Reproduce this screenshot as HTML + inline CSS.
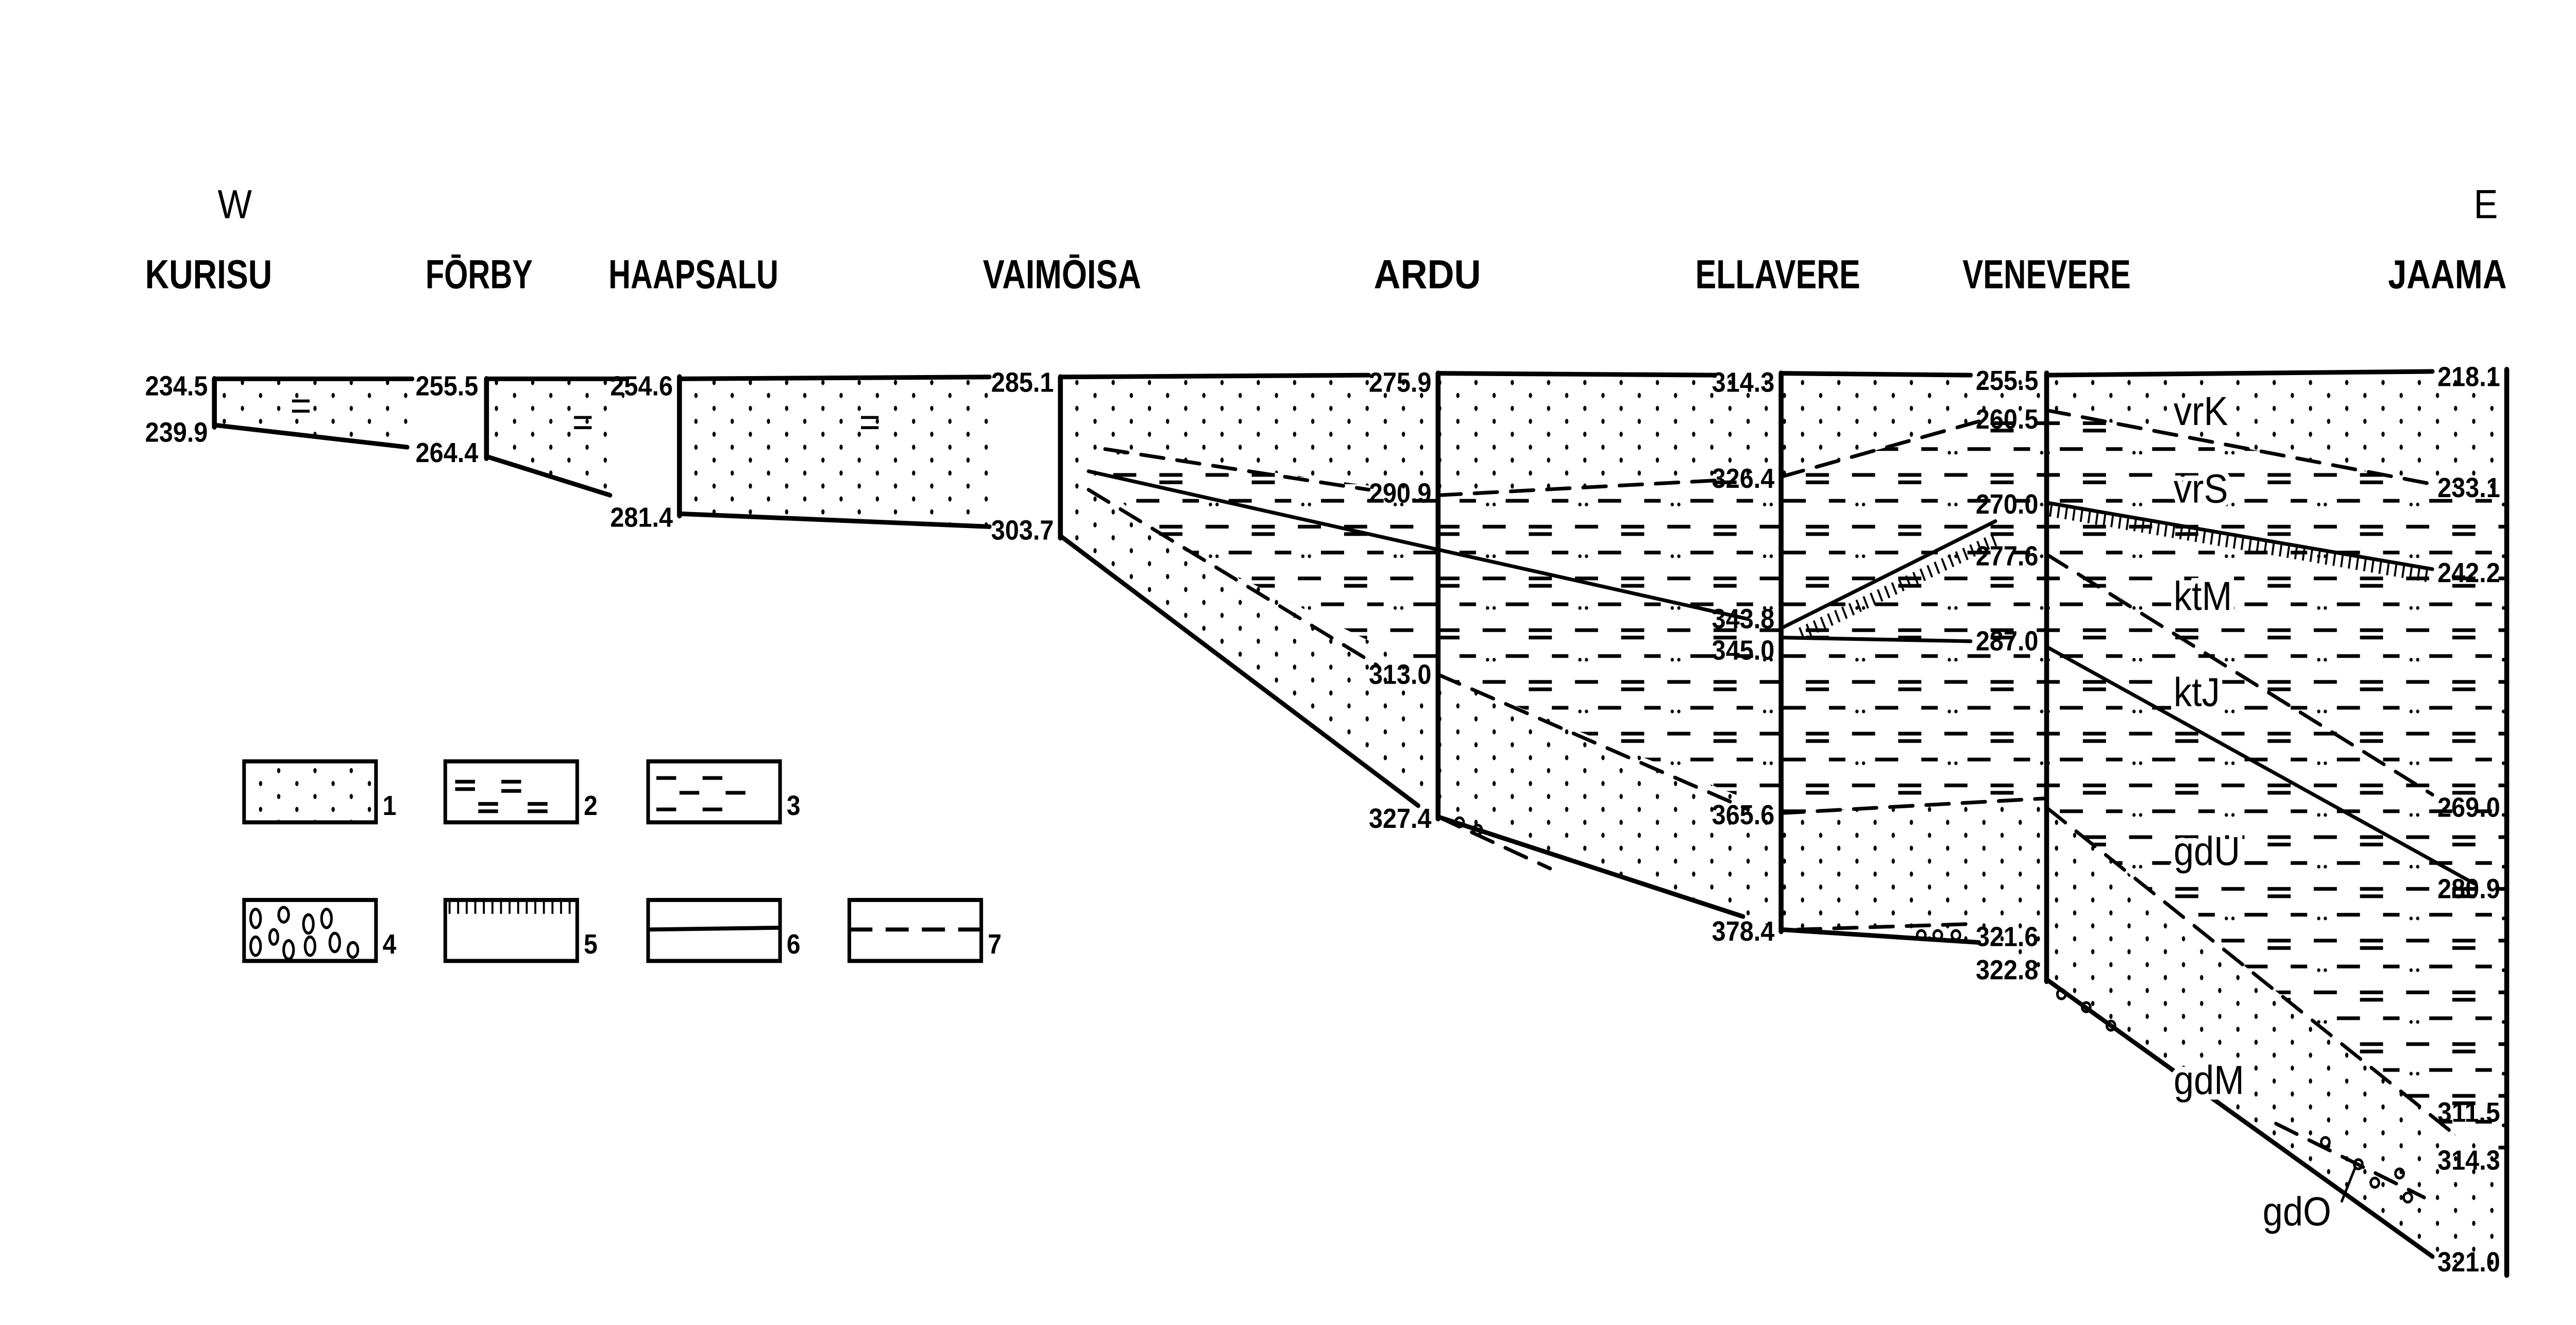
<!DOCTYPE html>
<html><head><meta charset="utf-8"><style>
html,body{margin:0;padding:0;background:#fff;width:100%;height:100%;overflow:hidden;}
svg{display:block;width:100vw;height:100vh;}
text{font-family:"Liberation Sans",sans-serif;fill:#000;}
.h{font-weight:bold;font-size:22px;}
.n{font-weight:bold;font-size:15px;}
.u{font-size:22px;}
</style></head><body>
<svg viewBox="0 0 1562 717" preserveAspectRatio="none" xmlns="http://www.w3.org/2000/svg">
<defs>
<pattern id="dots" width="22" height="14" patternUnits="userSpaceOnUse">
<rect width="22" height="14" fill="#fff"/>
<ellipse cx="4" cy="4" rx="1" ry="1.4" fill="#000"/>
<ellipse cx="15" cy="11" rx="1" ry="1.4" fill="#000"/>
</pattern>
<pattern id="dash" width="56" height="28" patternUnits="userSpaceOnUse">
<rect width="56" height="28" fill="#fff"/>
<rect x="3" y="4" width="14" height="2" fill="#000"/>
<rect x="31" y="4" width="14" height="2" fill="#000"/>
<rect x="31" y="8" width="14" height="2" fill="#000"/>
<rect x="17" y="18" width="14" height="2" fill="#000"/>
<rect x="45" y="18" width="10" height="2" fill="#000"/>
<circle cx="6" cy="21" r="1" fill="#000"/><circle cx="10" cy="21" r="1" fill="#000"/>
</pattern>
</defs>
<text x="132" y="118" class="u">W</text>
<text x="1500" y="118" class="u">E</text>
<g class="h">
<text x="88" y="156" textLength="77" lengthAdjust="spacingAndGlyphs">KURISU</text>
<text x="258" y="156" textLength="65" lengthAdjust="spacingAndGlyphs">FŌRBY</text>
<text x="369" y="156" textLength="103" lengthAdjust="spacingAndGlyphs">HAAPSALU</text>
<text x="596" y="156" textLength="96" lengthAdjust="spacingAndGlyphs">VAIMŌISA</text>
<text x="833" y="156" textLength="65" lengthAdjust="spacingAndGlyphs">ARDU</text>
<text x="1028" y="156" textLength="100" lengthAdjust="spacingAndGlyphs">ELLAVERE</text>
<text x="1190" y="156" textLength="102" lengthAdjust="spacingAndGlyphs">VENEVERE</text>
<text x="1448" y="156" textLength="72" lengthAdjust="spacingAndGlyphs">JAAMA</text>
</g>

<polygon points="130,205 250,205 250,242 130,230" fill="url(#dots)"/>
<polygon points="295,205 380,205 370,268 295,247" fill="url(#dots)"/>
<polygon points="412,205 600,205 600,285 412,278" fill="url(#dots)"/>
<polygon points="643,205 872,203 872,442 643,290" fill="url(#dots)"/>
<polygon points="872,203 1080,203 1080,503 872,442" fill="url(#dots)"/>
<polygon points="1080,203 1241,203 1241,530 1200,510 1080,503" fill="url(#dots)"/>
<polygon points="1241,203 1520,203 1520,690 1475,680 1241,530" fill="url(#dots)"/>
<polygon points="670,243 872,268 1080,258 1080,440 872,365 700,290 670,262" fill="url(#dash)"/>
<polygon points="1080,258 1200,228 1241,224 1241,432 1080,440" fill="url(#dash)"/>
<polygon points="1241,222 1475,262 1520,268 1520,625 1490,615 1241,437" fill="url(#dash)"/>

<g fill="none" stroke="#000" stroke-linecap="round">
<g stroke-width="3">
<line x1="130" y1="205" x2="130" y2="231"/>
<line x1="295" y1="205" x2="295" y2="248"/>
<line x1="412" y1="204" x2="412" y2="279"/>
<line x1="643" y1="204" x2="643" y2="291"/>
<line x1="872" y1="202" x2="872" y2="443"/>
<line x1="1080" y1="202" x2="1080" y2="504"/>
<line x1="1241" y1="202" x2="1241" y2="531"/>
<line x1="1520" y1="200" x2="1520" y2="690"/>
</g>
<g stroke-width="2.5">
<line x1="130" y1="205" x2="250" y2="205"/>
<line x1="295" y1="205" x2="380" y2="205"/>
<line x1="412" y1="205" x2="600" y2="204"/>
<line x1="643" y1="204" x2="830" y2="203"/>
<line x1="872" y1="202" x2="1040" y2="203"/>
<line x1="1080" y1="202" x2="1195" y2="203"/>
<line x1="1241" y1="203" x2="1475" y2="201"/>
<line x1="130" y1="230" x2="247" y2="242"/>
<line x1="295" y1="247" x2="370" y2="268"/>
<line x1="412" y1="278" x2="600" y2="285"/>
<line x1="643" y1="290" x2="860" y2="436"/>
<line x1="872" y1="442" x2="1057" y2="496"/>
<line x1="1080" y1="503" x2="1200" y2="510"/>
<line x1="1241" y1="530" x2="1475" y2="680"/>
</g>
<g stroke-width="2">
<line x1="660" y1="255" x2="1060" y2="335"/>
<line x1="1080" y1="345" x2="1195" y2="347"/>
<line x1="1241" y1="350" x2="1500" y2="478"/>
<line x1="1080" y1="340" x2="1210" y2="282"/>
<line x1="1241" y1="272" x2="1475" y2="308"/>
</g>
<g stroke-width="2" stroke-dasharray="14 8">
<line x1="670" y1="243" x2="830" y2="265"/>
<line x1="872" y1="268" x2="1040" y2="260"/>
<line x1="1080" y1="258" x2="1200" y2="228"/>
<line x1="1241" y1="222" x2="1475" y2="262"/>
<line x1="660" y1="265" x2="835" y2="360"/>
<line x1="872" y1="365" x2="1060" y2="438"/>
<line x1="1080" y1="440" x2="1241" y2="432"/>
<line x1="1241" y1="300" x2="1475" y2="430"/>
<line x1="1241" y1="437" x2="1490" y2="615"/>
<line x1="872" y1="442" x2="940" y2="470"/>
<line x1="1090" y1="503" x2="1195" y2="500"/>
<line x1="1380" y1="608" x2="1470" y2="648"/>
</g>
<line x1="1090" y1="338" x2="1210" y2="286" stroke-width="7" stroke-dasharray="1.2 3.5" transform="translate(2,5)" stroke-linecap="butt"/>
<line x1="1243" y1="276" x2="1475" y2="312" stroke-width="7" stroke-dasharray="1.2 3.5" stroke-linecap="butt"/>
<g stroke-width="1.5">
<circle cx="885" cy="445" r="2.5"/><circle cx="896" cy="449" r="2.5"/>
<circle cx="1165" cy="506" r="2.5"/><circle cx="1175" cy="506" r="2.5"/><circle cx="1186" cy="506" r="2.5"/>
<circle cx="1250" cy="538" r="2.5"/><circle cx="1265" cy="545" r="2.5"/><circle cx="1280" cy="555" r="2.5"/>
<circle cx="1410" cy="618" r="2.5"/><circle cx="1430" cy="630" r="2.5"/><circle cx="1440" cy="640" r="2.5"/><circle cx="1455" cy="635" r="2.5"/><circle cx="1460" cy="648" r="2.5"/>
<line x1="1420" y1="650" x2="1428" y2="632"/>
</g>
</g>

<g class="u">
<text x="1318" y="230" fill="#fff" stroke="#fff" stroke-width="6">vrK</text><text x="1318" y="230">vrK</text>
<text x="1318" y="272" fill="#fff" stroke="#fff" stroke-width="6">vrS</text><text x="1318" y="272">vrS</text>
<text x="1318" y="330" fill="#fff" stroke="#fff" stroke-width="6">ktM</text><text x="1318" y="330">ktM</text>
<text x="1318" y="382" fill="#fff" stroke="#fff" stroke-width="6">ktJ</text><text x="1318" y="382">ktJ</text>
<text x="1318" y="468" fill="#fff" stroke="#fff" stroke-width="6">gdU</text><text x="1318" y="468">gdU</text>
<text x="1318" y="592" fill="#fff" stroke="#fff" stroke-width="6">gdM</text><text x="1318" y="592">gdM</text>
<text x="1372" y="663">gdO</text>
</g>
<text x="176" y="227" class="u" font-size="18">=</text>
<text x="347" y="236" class="u" font-size="18">=</text>
<text x="521" y="236" class="u" font-size="18">=</text>

<g class="n">
<text x="88" y="214" textLength="38" lengthAdjust="spacingAndGlyphs">234.5</text>
<text x="88" y="239" textLength="38" lengthAdjust="spacingAndGlyphs">239.9</text>
<text x="252" y="214" textLength="38" lengthAdjust="spacingAndGlyphs">255.5</text>
<text x="252" y="250" textLength="38" lengthAdjust="spacingAndGlyphs">264.4</text>
<text x="370" y="214" textLength="38" lengthAdjust="spacingAndGlyphs">254.6</text>
<text x="370" y="285" textLength="38" lengthAdjust="spacingAndGlyphs">281.4</text>
<text x="601" y="212" textLength="38" lengthAdjust="spacingAndGlyphs">285.1</text>
<text x="601" y="292" textLength="38" lengthAdjust="spacingAndGlyphs">303.7</text>
<text x="830" y="212" textLength="38" lengthAdjust="spacingAndGlyphs">275.9</text>
<text x="830" y="272" textLength="38" lengthAdjust="spacingAndGlyphs">290.9</text>
<text x="830" y="370" textLength="38" lengthAdjust="spacingAndGlyphs">313.0</text>
<text x="830" y="448" textLength="38" lengthAdjust="spacingAndGlyphs">327.4</text>
<text x="1038" y="212" textLength="38" lengthAdjust="spacingAndGlyphs">314.3</text>
<text x="1038" y="264" textLength="38" lengthAdjust="spacingAndGlyphs">326.4</text>
<text x="1038" y="340" textLength="38" lengthAdjust="spacingAndGlyphs">343.8</text>
<text x="1038" y="357" textLength="38" lengthAdjust="spacingAndGlyphs">345.0</text>
<text x="1038" y="446" textLength="38" lengthAdjust="spacingAndGlyphs">365.6</text>
<text x="1038" y="509" textLength="38" lengthAdjust="spacingAndGlyphs">378.4</text>
<text x="1198" y="211" textLength="38" lengthAdjust="spacingAndGlyphs">255.5</text>
<text x="1198" y="232" textLength="38" lengthAdjust="spacingAndGlyphs">260.5</text>
<text x="1198" y="278" textLength="38" lengthAdjust="spacingAndGlyphs">270.0</text>
<text x="1198" y="306" textLength="38" lengthAdjust="spacingAndGlyphs">277.6</text>
<text x="1198" y="352" textLength="38" lengthAdjust="spacingAndGlyphs">287.0</text>
<text x="1198" y="512" textLength="38" lengthAdjust="spacingAndGlyphs">321.6</text>
<text x="1198" y="530" textLength="38" lengthAdjust="spacingAndGlyphs">322.8</text>
<text x="1478" y="209" textLength="38" lengthAdjust="spacingAndGlyphs">218.1</text>
<text x="1478" y="269" textLength="38" lengthAdjust="spacingAndGlyphs">233.1</text>
<text x="1478" y="315" textLength="38" lengthAdjust="spacingAndGlyphs">242.2</text>
<text x="1478" y="442" textLength="38" lengthAdjust="spacingAndGlyphs">269.0</text>
<text x="1478" y="486" textLength="38" lengthAdjust="spacingAndGlyphs">280.9</text>
<text x="1478" y="607" textLength="38" lengthAdjust="spacingAndGlyphs">311.5</text>
<text x="1478" y="633" textLength="38" lengthAdjust="spacingAndGlyphs">314.3</text>
<text x="1478" y="688" textLength="38" lengthAdjust="spacingAndGlyphs">321.0</text>
</g>

<g stroke="#000" stroke-width="2.2">
<rect x="148" y="412" width="80" height="33" fill="url(#dots)"/>
<rect x="270" y="412" width="80" height="33" fill="#fff"/>
<rect x="393" y="412" width="80" height="33" fill="#fff"/>
<rect x="148" y="487" width="80" height="33" fill="#fff"/>
<rect x="270" y="487" width="80" height="33" fill="#fff"/>
<rect x="393" y="487" width="80" height="33" fill="#fff"/>
<rect x="515" y="487" width="80" height="33" fill="#fff"/>
<line x1="393" y1="503" x2="473" y2="502"/>
<line x1="515" y1="503" x2="595" y2="503" stroke-dasharray="14 8"/>
<line x1="272" y1="491" x2="348" y2="491" stroke-width="7" stroke-dasharray="1.2 4"/>
</g>
<g fill="#000">
<rect x="276" y="422" width="12" height="2"/><rect x="276" y="426" width="12" height="2"/>
<rect x="304" y="422" width="12" height="2"/><rect x="304" y="427" width="12" height="2"/>
<rect x="290" y="434" width="12" height="2"/><rect x="290" y="438" width="12" height="2"/>
<rect x="320" y="434" width="12" height="2"/><rect x="320" y="438" width="12" height="2"/>
<rect x="398" y="420" width="12" height="2"/><rect x="426" y="420" width="12" height="2"/>
<rect x="412" y="428" width="12" height="2"/><rect x="440" y="428" width="12" height="2"/>
<rect x="398" y="437" width="12" height="2"/><rect x="426" y="437" width="12" height="2"/>
</g>
<g fill="none" stroke="#000" stroke-width="1.6">
<ellipse cx="155" cy="497" rx="3" ry="5"/><ellipse cx="172" cy="495" rx="3" ry="4"/><ellipse cx="187" cy="500" rx="3" ry="5"/><ellipse cx="198" cy="497" rx="3" ry="5"/>
<ellipse cx="155" cy="512" rx="3" ry="5"/><ellipse cx="166" cy="507" rx="2.5" ry="4"/><ellipse cx="175" cy="514" rx="3" ry="5"/><ellipse cx="188" cy="512" rx="3" ry="5"/><ellipse cx="203" cy="510" rx="3" ry="5"/><ellipse cx="214" cy="514" rx="3" ry="4"/>
</g>
<g class="n" font-size="20">
<text x="232" y="441">1</text><text x="354" y="441">2</text><text x="477" y="441">3</text>
<text x="232" y="516">4</text><text x="354" y="516">5</text><text x="477" y="516">6</text><text x="599" y="516">7</text>
</g>
</svg>
</body></html>
